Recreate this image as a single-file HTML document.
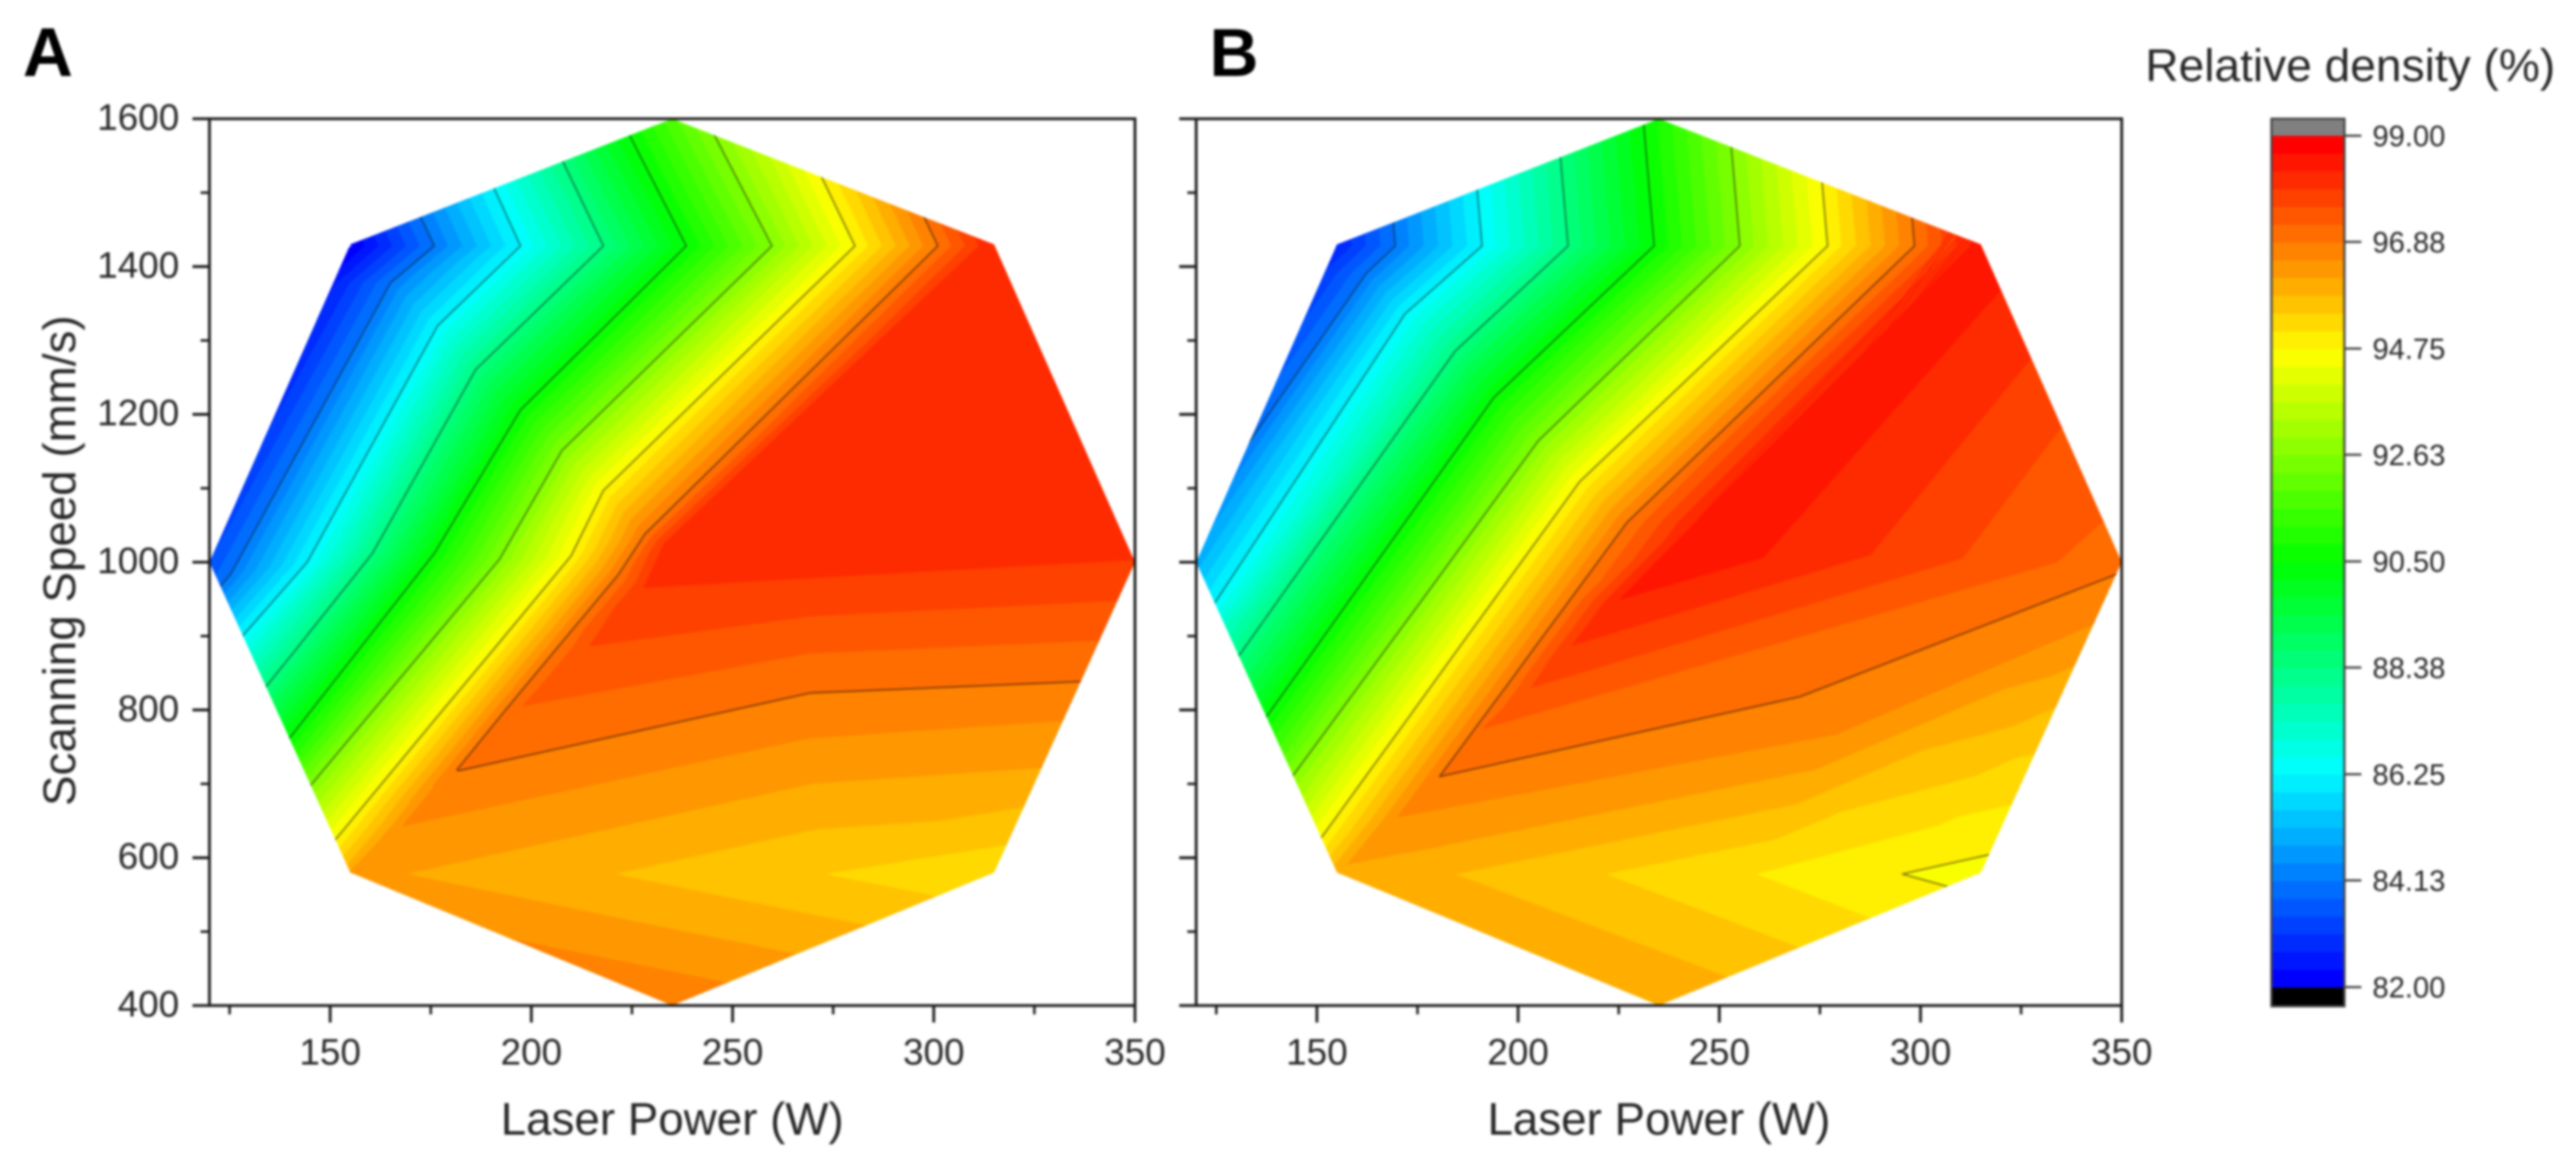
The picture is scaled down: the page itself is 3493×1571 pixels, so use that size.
<!DOCTYPE html>
<html lang="en">
<head>
<meta charset="utf-8">
<title>Relative density contour maps</title>
<style>
html,body{margin:0;padding:0;background:#fff;}
#chart{display:block;width:3493px;height:1571px;filter:blur(1.6px);}
text{font-family:"Liberation Sans",sans-serif;fill:#262626;}
</style>
</head>
<body>
<svg id="chart" xmlns="http://www.w3.org/2000/svg" width="3493" height="1571" viewBox="0 0 3493 1571"></svg>
<script>
// ----- axis and scale data -----
const xTicks = [150, 200, 250, 300, 350];
const xMinorTicks = [125, 175, 225, 275, 325];
const yTicks = [400, 600, 800, 1000, 1200, 1400, 1600];
const yMinorTicks = [500, 700, 900, 1100, 1300, 1500];
const colorbarTicks = ["82.00", "84.13", "86.25", "88.38", "90.50", "92.63", "94.75", "96.88", "99.00"];
const contourLevels = [84.13, 86.25, 88.38, 90.5, 92.63, 94.75, 96.88];
const densityMin = 82;
const densityMax = 99;
const bandCount = 48;

// ----- boundary of the sampled process window -----
const hullPower = [120, 155, 235, 315, 350, 315, 235, 155];
const hullSpeed = [1000, 1430, 1600, 1430, 1000, 580, 400, 580];

// ----- panel A measured mesh -----
const powerGridA = [
  [136.6,156.6,178.6,198.3,217.6,238.6,260.7,281.7,292,320,420],
  [155.3,175.9,197.3,217.9,238.5,259.8,280.4,301,311.3,340,420],
  [145,165,176.7,186.2,197.3,207.6,217.9,228.2,233,290,420],
  [105,125.2,144.3,160.5,175.9,192.1,209.8,221.6,228,272,360],
  [88.7,108.7,125,141.2,156.9,173.1,190.3,205.8,214.7,269,360],
  [75.9,95.9,112.1,129.4,145.4,160.8,178,193.6,198,269,360],
  [62.8,82.8,98.9,117.4,133.6,148.2,165.5,181.5,182,269.2,360],
  [50.8,70.8,86.8,106.4,122.8,136.8,154.1,161,168,269,360],
  [40.4,60.4,76.4,96.9,113.5,126.8,144.2,150,155,272,360],
  [11.9,31.9,47.7,70.8,87.9,99.5,117,130,155,272,360]
];
const speedGridA = [
  [1650,1650,1650,1650,1650,1650,1650,1650,1650,1650,1650],
  [1428,1428,1428,1428,1428,1428,1428,1428,1428,1428,1428],
  [1378,1378,1320,1261,1206,1151,1097,1038,1025,1100,1100],
  [983,983,1000,1012,1012,1004,1008,983,966,980,1007],
  [880,880,880,880,880,880,880,880,888,928,953],
  [800,800,800,800,800,800,800,800,806,877,899],
  [718,718,718,718,718,718,718,719,718,823,844],
  [643,643,643,643,643,643,643,643,643,762,796],
  [578,578,578,578,578,578,578,578,578,578,578],
  [400,400,400,400,400,400,400,400,400,400,400]
];
const densityGridA = [
  [82,84.13,86.25,88.38,90.5,92.63,94.75,96.88,97.94,98.1,98.1],
  [82,84.13,86.25,88.38,90.5,92.63,94.75,96.88,97.94,98.1,98.1],
  [82,84.13,86.25,88.38,90.5,92.63,94.75,96.88,97.94,98.1,98.1],
  [82,84.13,86.25,88.38,90.5,92.63,94.75,96.88,97.94,97.94,97.94],
  [82,84.13,86.25,88.38,90.5,92.63,94.75,96.88,97.59,97.59,97.59],
  [82,84.13,86.25,88.38,90.5,92.63,94.75,96.88,97.23,97.23,97.23],
  [82,84.13,86.25,88.38,90.5,92.63,94.75,96.88,96.88,96.88,96.88],
  [82,84.13,86.25,88.38,90.5,92.63,94.75,95.63,96.52,96.52,96.52],
  [82,84.13,86.25,88.38,90.5,92.63,94.75,95.5,96.26,95.46,94.88],
  [82,84.13,86.25,88.38,90.5,92.63,94.75,96.5,97.34,96.55,95.96]
];

// ----- panel B measured mesh -----
const powerGridB = [
  [144.5,166,187.5,208.9,230.3,251.6,273.4,295,309,320,330,345],
  [148,169.5,191.05,212.4,233.8,255.1,276.9,298.5,312.5,320,325,345],
  [140.8,162.3,171.9,184.4,194,205,215.3,227.1,244,262,290,320],
  [84,105.7,124.9,140.2,157.9,175.9,193.7,212.6,224.6,261,317,340],
  [77,98.2,115.4,132.5,150.2,167.9,185.8,204.6,213.5,287.4,324.3,345],
  [69,90.8,107.9,125,142.6,160.1,178.1,196.8,203.3,310.6,330.2,350],
  [62,83.8,100.8,117.8,135.4,152.7,170.8,189.3,191.2,333.8,345,365],
  [54,75.5,92.3,109.3,126.9,143.9,162.1,180.5,180.5,270,347,370],
  [47,68.5,85.2,102.1,119.7,136.5,154.8,163,170,279,341.3,365],
  [37,58.7,75.2,92.1,109.6,126.2,144.5,150,155,259.2,295.5,360],
  [15,36,52,68.9,86.3,102.3,120.8,130,155,259.2,295.5,360]
];
const speedGridB = [
  [1650,1650,1650,1650,1650,1650,1650,1650,1650,1650,1650,1650],
  [1428,1428,1428,1428,1428,1428,1428,1428,1428,1500,1580,1640],
  [1391,1391,1336,1286,1223,1164,1109,1054,1054,1100,1300,1450],
  [947,947,947,947,947,947,947,947,947,1005,1349,1490],
  [888,888,888,888,888,888,888,888,888,1010,1256,1394],
  [830,830,830,830,830,830,830,830,830,1005,1147,1290],
  [775,775,775,775,775,775,775,775,775,1000,1054,1150],
  [710,710,710,710,710,710,710,710,710,818,980,1030],
  [655,655,655,655,655,655,655,655,655,767,912,970],
  [578,578,578,578,578,578,578,578,578,578,578,578],
  [400,400,400,400,400,400,400,400,400,400,400,400]
];
const densityGridB = [
  [82,84.13,86.25,88.38,90.5,92.63,94.75,96.88,98.29,98.4,98.4,98.4],
  [82,84.13,86.25,88.38,90.5,92.63,94.75,96.88,98.29,98.4,98.4,98.4],
  [82,84.13,86.25,88.38,90.5,92.63,94.75,96.88,98.29,98.4,98.4,98.4],
  [82,84.13,86.25,88.38,90.5,92.63,94.75,96.88,98.29,98.29,98.29,98.29],
  [82,84.13,86.25,88.38,90.5,92.63,94.75,96.88,97.94,97.94,97.94,97.94],
  [82,84.13,86.25,88.38,90.5,92.63,94.75,96.88,97.58,97.58,97.58,97.58],
  [82,84.13,86.25,88.38,90.5,92.63,94.75,96.88,97.23,97.23,97.23,97.23],
  [82,84.13,86.25,88.38,90.5,92.63,94.75,96.88,96.88,96.88,96.88,96.88],
  [82,84.13,86.25,88.38,90.5,92.63,94.75,95.7,96.52,96.52,96.52,96.52],
  [82,84.13,86.25,88.38,90.5,92.63,94.75,95.5,96.09,95.1,94.75,94.3],
  [82,84.13,86.25,88.38,90.5,92.63,94.75,96,96.91,95.92,95.57,95.12]
];

// ----- drawing helpers -----
const NS = "http://www.w3.org/2000/svg";
const root = document.getElementById("chart");
function make(tag, attrs, parent) {
  const e = document.createElementNS(NS, tag);
  for (const k in attrs) e.setAttribute(k, attrs[k]);
  (parent || root).appendChild(e);
  return e;
}
const step = (densityMax - densityMin) / bandCount;
function bandColor(k) {
  const t = Math.max(0, Math.min(1, k / (bandCount - 1))) * 4;
  const s = Math.min(3, Math.floor(t));
  const f = t - s;
  let r = 0, g = 0, b = 0;
  if (s === 0) { g = 255 * f; b = 255; }
  else if (s === 1) { g = 255; b = 255 * (1 - f); }
  else if (s === 2) { r = 255 * f; g = 255; }
  else { r = 255; g = 255 * (1 - f); }
  return "rgb(" + Math.round(r) + "," + Math.round(g) + "," + Math.round(b) + ")";
}
const plotTop = 161, plotBottom = 1363;
const yScale = s => plotTop + (1600 - s) * (plotBottom - plotTop) / 1200;

function clipBelow(poly, lim, keepAbove) {
  const out = [];
  for (let i = 0; i < poly.length; i++) {
    const a = poly[i], b = poly[(i + 1) % poly.length];
    const ia = keepAbove ? a[2] >= lim : a[2] <= lim;
    const ib = keepAbove ? b[2] >= lim : b[2] <= lim;
    if (ia) out.push(a);
    if (ia !== ib) {
      const t = (lim - a[2]) / (b[2] - a[2]);
      out.push([a[0] + (b[0] - a[0]) * t, a[1] + (b[1] - a[1]) * t, lim]);
    }
  }
  return out;
}

function drawPanel(id, left, right, powers, speeds, densities, showYLabels) {
  const xScale = p => left + (p - 120) * (right - left) / 230;
  const panel = make("g", {});
  
  

  const defs = make("defs", {}, panel);
  const clip = make("clipPath", { id: "hull-" + id }, defs);
  make("polygon", {
    points: hullPower.map((p, i) => xScale(p).toFixed(1) + "," + yScale(hullSpeed[i]).toFixed(1)).join(" ")
  }, clip);

  const tris = [];
  for (let r = 0; r < powers.length - 1; r++) {
    for (let c = 0; c < powers[r].length - 1; c++) {
      const n = (rr, cc) => [xScale(powers[rr][cc]), yScale(speeds[rr][cc]), densities[rr][cc]];
      tris.push([n(r, c), n(r, c + 1), n(r + 1, c)]);
      tris.push([n(r, c + 1), n(r + 1, c + 1), n(r + 1, c)]);
    }
  }

  const fills = make("g", { "clip-path": "url(#hull-" + id + ")" }, panel);
  
  
  for (let k = 0; k < bandCount; k++) {
    const lo = k === 0 ? -1e9 : densityMin + k * step;
    const hi = k === bandCount - 1 ? 1e9 : densityMin + (k + 1) * step;
    let d = "";
    tris.forEach(t => {
      let poly = clipBelow(t, lo, true);
      if (poly.length) poly = clipBelow(poly, hi, false);
      if (poly.length > 2) {
        d += "M" + poly.map(q => q[0].toFixed(1) + " " + q[1].toFixed(1)).join("L") + "Z";
      }
    });
    if (d) {
      const col = bandColor(k);
      const band = make("path", { d: d, fill: col, stroke: col, "stroke-width": 1.2, "stroke-linejoin": "round" }, fills);
      
      
    }
  }

  const lines = make("g", { "clip-path": "url(#hull-" + id + ")" }, panel);
  
  
  const lineGroup = make("g", { opacity: 0.55 }, lines);
  contourLevels.forEach(L => {
    let d = "";
    tris.forEach(t => {
      const pts = [];
      for (let i = 0; i < 3; i++) {
        const a = t[i], b = t[(i + 1) % 3];
        if ((a[2] >= L) !== (b[2] >= L)) {
          const f = (L - a[2]) / (b[2] - a[2]);
          pts.push([a[0] + (b[0] - a[0]) * f, a[1] + (b[1] - a[1]) * f]);
        }
      }
      if (pts.length === 2) {
        d += "M" + pts[0][0].toFixed(1) + " " + pts[0][1].toFixed(1) + "L" + pts[1][0].toFixed(1) + " " + pts[1][1].toFixed(1);
      }
    });
    const line = make("path", { d: d, fill: "none", stroke: "#111", "stroke-width": 2, "stroke-linecap": "round" }, lineGroup);
    
    
  });

  // frame
  const frame = make("rect", { x: left, y: plotTop, width: right - left, height: plotBottom - plotTop, fill: "none", stroke: "#1c1c1c", "stroke-width": 3.8 }, panel);
  
  

  // y ticks
  yTicks.forEach(v => {
    const y = yScale(v);
    const tick = make("line", { x1: left - 23, x2: left, y1: y, y2: y, stroke: "#1c1c1c", "stroke-width": 3.8 }, panel);
    
    
    if (showYLabels) {
      const label = make("text", { x: left - 41, y: y + 15, "text-anchor": "end", "font-size": 50 }, panel);
      label.textContent = v;
      
      
    }
  });
  yMinorTicks.forEach(v => {
    const y = yScale(v);
    const tick = make("line", { x1: left - 12, x2: left, y1: y, y2: y, stroke: "#1c1c1c", "stroke-width": 3.4 }, panel);
    
    
  });

  // x ticks
  xTicks.forEach(v => {
    const x = xScale(v);
    const tick = make("line", { x1: x, x2: x, y1: plotBottom, y2: plotBottom + 23, stroke: "#1c1c1c", "stroke-width": 3.8 }, panel);
    
    
    const label = make("text", { x: x, y: 1443, "text-anchor": "middle", "font-size": 50 }, panel);
    label.textContent = v;
    
    
  });
  xMinorTicks.forEach(v => {
    const x = xScale(v);
    const tick = make("line", { x1: x, x2: x, y1: plotBottom, y2: plotBottom + 12, stroke: "#1c1c1c", "stroke-width": 3.4 }, panel);
    
    
  });

  const xTitle = make("text", { x: (left + right) / 2, y: 1538, "text-anchor": "middle", "font-size": 62 }, panel);
  xTitle.textContent = "Laser Power (W)";
  
  

  return panel;
}

drawPanel("a", 284, 1539, powerGridA, speedGridA, densityGridA, true);
drawPanel("b", 1622, 2877, powerGridB, speedGridB, densityGridB, false);

const yTitle = make("text", { x: 0, y: 0, "text-anchor": "middle", "font-size": 62, transform: "translate(102 760) rotate(-90)" });
yTitle.textContent = "Scanning Speed (mm/s)";



const labelA = make("text", { x: 31, y: 103, "font-size": 94, "font-weight": 700, style: "fill:#000" });
labelA.textContent = "A";



const labelB = make("text", { x: 1640, y: 103, "font-size": 92, "font-weight": 700, style: "fill:#000" });
labelB.textContent = "B";



// ----- colour bar -----
const barLeft = 3080, barRight = 3179, barTop = 161, barBottom = 1364, barY99 = 184, barY82 = 1338;
const barScale = v => barY82 + (v - densityMin) * (barY99 - barY82) / (densityMax - densityMin);
const bar = make("g", {});


const over = make("rect", { x: barLeft, y: barTop, width: barRight - barLeft, height: barY99 - barTop, fill: "#808080" }, bar);


const under = make("rect", { x: barLeft, y: barY82, width: barRight - barLeft, height: barBottom - barY82, fill: "#000" }, bar);


for (let k = 0; k < bandCount; k++) {
  const top = barScale(densityMin + (k + 1) * step);
  const bottom = barScale(densityMin + k * step);
  const swatch = make("rect", { x: barLeft, y: top, width: barRight - barLeft, height: bottom - top + 0.6, fill: bandColor(k) }, bar);
  
  
}
const barFrame = make("rect", { x: barLeft, y: barTop, width: barRight - barLeft, height: barBottom - barTop, fill: "none", stroke: "#444", "stroke-width": 3 }, bar);


colorbarTicks.forEach(v => {
  const y = barScale(parseFloat(v));
  const tick = make("line", { x1: barRight, x2: 3202, y1: y, y2: y, stroke: "#444", "stroke-width": 3 }, bar);
  
  
  const label = make("text", { x: 3217, y: y + 14, "font-size": 39.5 }, bar);
  label.textContent = v;
  
  
});
const barTitle = make("text", { x: 2909, y: 110, "font-size": 62.5 }, bar);
barTitle.textContent = "Relative density (%)";


</script>
</body>
</html>
